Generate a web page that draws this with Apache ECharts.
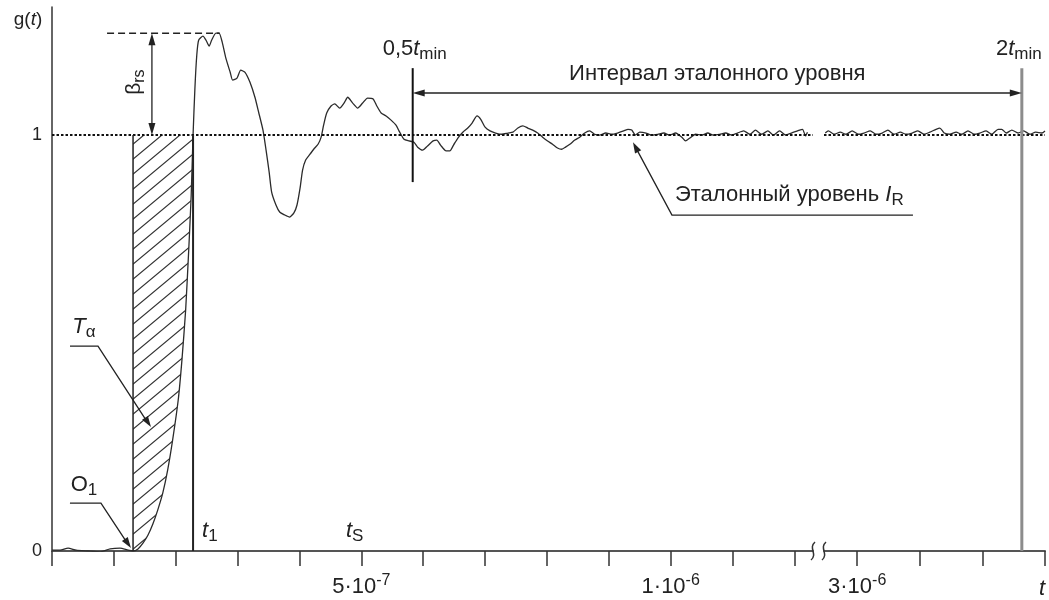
<!DOCTYPE html>
<html><head><meta charset="utf-8">
<script src="https://cdn.jsdelivr.net/npm/echarts@6/dist/echarts.min.js"></script>
<style>html,body{margin:0;padding:0;background:#fff}#c{width:1049px;height:600px}</style>
</head><body><div id="c"></div>
<script>
// time in units of 1e-7 s, g(t) dimensionless
const curveEarly = [
 [0,0.002],[0.13,0.002],[0.26,0.007],[0.39,0.002],[0.58,0],[0.78,-0.002],[0.94,0.005],[1.10,0.007],[1.23,0.002],
 [1.31,0],[1.39,0.005],[1.47,0.019],[1.55,0.038],[1.63,0.065],[1.71,0.099],[1.79,0.139],[1.87,0.195],[1.95,0.267],
 [2.04,0.363],[2.10,0.459],[2.16,0.579],[2.21,0.724],[2.25,0.856],[2.28,1.0],[2.31,1.113],[2.34,1.192],[2.37,1.228],
 [2.44,1.238],[2.49,1.228],[2.54,1.214],[2.58,1.228],[2.65,1.245],[2.70,1.245],[2.75,1.224],[2.81,1.185],[2.88,1.151],
 [2.92,1.132],[2.99,1.137],[3.05,1.156],[3.12,1.151],[3.20,1.127],[3.28,1.091],[3.34,1.055],[3.41,1.012],[3.46,0.964],
 [3.51,0.911],[3.55,0.863],[3.62,0.832],[3.68,0.815],[3.76,0.808],[3.84,0.803],[3.91,0.813],[3.96,0.832],[4.01,0.873],
 [4.05,0.916],[4.10,0.94],[4.17,0.954],[4.23,0.966],[4.30,0.978],[4.35,0.995],[4.39,1.024],[4.44,1.053],[4.51,1.07],
 [4.57,1.075],[4.65,1.065],[4.72,1.077],[4.78,1.091],[4.86,1.077],[4.94,1.065],[5.02,1.077],[5.10,1.089],[5.19,1.087],
 [5.25,1.07],[5.32,1.053],[5.40,1.046],[5.48,1.036],[5.56,1.024],[5.62,1.007],[5.69,0.99],[5.77,0.986],[5.85,0.983],
 [5.91,0.971],[5.99,0.964],[6.07,0.974],[6.16,0.986],[6.22,0.988],[6.28,0.976],[6.37,0.962],[6.43,0.962],[6.49,0.976],
 [6.56,0.993],[6.64,1.007],[6.72,1.017],[6.79,1.029],[6.87,1.046],[6.93,1.038],[7.00,1.019],[7.08,1.01],[7.17,1.005],
 [7.27,1.002],[7.37,1.005],[7.45,1.007],[7.53,1.017],[7.61,1.022],[7.69,1.017],[7.77,1.012],[7.85,1.005],[7.93,0.995],
 [8.01,0.986],[8.09,0.978],[8.17,0.969],[8.24,0.966],[8.30,0.971],[8.37,0.978],[8.45,0.988],[8.53,0.995],[8.61,1.005],
 [8.69,1.01],[8.77,1.002],[8.85,1.0],[8.95,1.005],[9.05,1.002],[9.14,1.005],[9.24,1.01],[9.31,1.014],[9.37,1.012],
 [9.43,1.0],[9.50,1.007],[9.60,1.005],[9.69,1.0],[9.79,1.002],[9.89,1.005],[9.98,1.0],[10.08,1.005],[10.18,0.995],
 [10.24,0.986],[10.31,0.993],[10.40,1.002],[10.50,1.0],[10.60,1.005],[10.69,1.0],[10.79,1.002],[10.89,1.005],[10.99,1.0],
 [11.08,1.005],[11.18,1.01],[11.28,1.002],[11.37,1.012],[11.47,1.002],[11.57,1.01],[11.66,1.0],[11.76,1.01],[11.86,1.0],
 [11.95,1.005],[12.05,1.01],[12.13,1.014],[12.18,0.998],[12.21,1.007]
];
const curveLate = [
 [29.49,1.005],[29.54,1.01],[29.63,1.002],[29.73,1.007],[29.82,1.002],[29.92,1.01],[30.02,1.002],[30.11,1.005],
 [30.21,1.01],[30.30,1.002],[30.40,1.005],[30.49,1.012],[30.59,1.002],[30.69,1.007],[30.78,1.002],[30.88,1.005],
 [30.97,1.01],[31.07,1.002],[31.16,1.007],[31.26,1.014],[31.32,1.017],[31.39,1.005],[31.48,1.002],[31.58,1.007],
 [31.67,1.002],[31.77,1.01],[31.87,1.002],[31.96,1.005],[32.06,1.01],[32.15,1.002],[32.25,1.014],[32.31,1.014],
 [32.38,1.005],[32.47,1.012],[32.57,1.005],[32.66,1.01],[32.76,1.002],[32.85,1.007],[32.95,1.005],[33.0,1.01]
];
const ticksEarly = [0,1,2,3,4,5,6,7,8,9,10,11,12];
const labelsEarly = [5,10];
const ticksLate = [30,31,32,33];
const labelsLate = [30];
const yLabels = [0,1];
const refLevel = 1;
const tO1 = 1.31, tT1 = 2.28, tS = 4.75, tHalfMin = 5.83, tTwoMin = 32.63;

const FF = "'Liberation Sans', Arial, Helvetica, sans-serif";
const INK = '#222';

function sciLabel(v){
  const s = v*1e-7;
  const e = Math.floor(Math.log10(s)+1e-9);
  const m = Math.round(s/Math.pow(10,e));
  return '{m|'+m+'·10}{p|-'+(-e)+'}';
}
const xRich = {
  m:{fontSize:22,fontFamily:FF,color:INK,lineHeight:28},
  p:{fontSize:16,fontFamily:FF,color:INK,lineHeight:16,verticalAlign:'top'}
};
function richSet(size){
  return {
    n:{fontSize:size,fontFamily:FF,color:INK,lineHeight:size+6},
    i:{fontSize:size,fontFamily:FF,color:INK,fontStyle:'italic',lineHeight:size+6},
    s:{fontSize:Math.round(size*0.75),fontFamily:FF,color:INK,lineHeight:12,verticalAlign:'bottom'},
    si:{fontSize:Math.round(size*0.75),fontFamily:FF,color:INK,fontStyle:'italic',lineHeight:12,verticalAlign:'bottom'}
  };
}

// hatch pattern
const pc = document.createElement('canvas');
const PW = 18, PH = 15;
pc.width = PW; pc.height = PH;
(function(){
  const c = pc.getContext('2d');
  c.strokeStyle = '#333'; c.lineWidth = 1.2;
  c.beginPath();
  c.moveTo(-PW, 2*PH); c.lineTo(2*PW, -PH);
  c.moveTo(-2*PW, 2*PH); c.lineTo(PW, -PH);
  c.moveTo(0, 2*PH); c.lineTo(3*PW, -PH);
  c.stroke();
})();

const chart = echarts.init(document.getElementById('c'), null, {renderer:'canvas'});
const axisLineStyle = {color:'#555', width:2};
const dotted = {color:'#111', type:[2.5,2], width:2};
const peak = Math.max.apply(null, curveEarly.map(d=>d[1]));

chart.setOption({
  animation:false,
  backgroundColor:'#fff',
  grid:[
    {left:52, width:761, top:7, bottom:49},
    {left:824, width:221, top:7, bottom:49}
  ],
  xAxis:[
    {gridIndex:0, type:'value', min:0, max:12.3,
     axisLine:{show:true, lineStyle:axisLineStyle},
     axisTick:{show:true, length:15, lineStyle:{color:'#333', width:1.5}, customValues:ticksEarly},
     axisLabel:{show:true, customValues:labelsEarly, margin:22, formatter:sciLabel, rich:xRich},
     splitLine:{show:false}},
    {gridIndex:1, type:'value', min:29.47, max:33.0,
     axisLine:{show:true, lineStyle:axisLineStyle},
     axisTick:{show:true, length:15, lineStyle:{color:'#333', width:1.5}, customValues:ticksLate},
     axisLabel:{show:true, customValues:labelsLate, margin:22, formatter:sciLabel, rich:xRich},
     splitLine:{show:false}}
  ],
  yAxis:[
    {gridIndex:0, type:'value', min:0, max:1.308,
     axisLine:{show:true, lineStyle:{color:'#333', width:1.5}},
     axisTick:{show:false},
     axisLabel:{show:true, customValues:yLabels, margin:10, fontSize:18, fontFamily:FF, color:INK},
     splitLine:{show:false}},
    {gridIndex:1, type:'value', min:0, max:1.308, show:false, splitLine:{show:false}}
  ],
  series:[
    {type:'custom', xAxisIndex:0, yAxisIndex:0, data:[0], silent:true, z:1,
     renderItem:function(params, api){
       const pts = [api.coord([tO1, refLevel])];
       curveEarly.forEach(d=>{ if(d[0]>=tO1-1e-9 && d[0]<=tT1+1e-9) pts.push(api.coord([d[0], Math.max(0,d[1])])); });
       pts.push(api.coord([tT1, refLevel]));
       return {type:'polygon', shape:{points:pts}, style:{fill:{image:pc, repeat:'repeat'}, stroke:null}};
     }},
    {type:'line', xAxisIndex:0, yAxisIndex:0, data:curveEarly, showSymbol:false, smooth:0.2,
     lineStyle:{color:'#2b2b2b', width:1.3}, z:3,
     markLine:{silent:true, symbol:'none', label:{show:false}, lineStyle:dotted, data:[{yAxis:refLevel}]}},
    {type:'line', xAxisIndex:1, yAxisIndex:1, data:curveLate, showSymbol:false, smooth:0.2,
     lineStyle:{color:'#2b2b2b', width:1.3}, z:3,
     markLine:{silent:true, symbol:'none', label:{show:false}, lineStyle:dotted, data:[{yAxis:refLevel}]}}
  ]
});

const P = (gi,t,g) => chart.convertToPixel({xAxisIndex:gi, yAxisIndex:gi}, [t,g]);
function line(a,b,style){ return {type:'line', shape:{x1:a[0],y1:a[1],x2:b[0],y2:b[1]}, style:Object.assign({stroke:INK,lineWidth:1.5},style||{}), z:10}; }
function head(tip, from, len, half){
  const dx = tip[0]-from[0], dy = tip[1]-from[1];
  const L = Math.sqrt(dx*dx+dy*dy); const ux = dx/L, uy = dy/L;
  const bx = tip[0]-ux*len, by = tip[1]-uy*len;
  return {type:'polygon', shape:{points:[[tip[0],tip[1]],[bx-uy*half,by+ux*half],[bx+uy*half,by-ux*half]]}, style:{fill:INK}, z:11};
}
function txt(x,y,text,size,align,extra){
  return Object.assign({type:'text', x:x, y:y, z:12, style:{text:text, rich:richSet(size), fontSize:size, fontFamily:FF, fill:INK,
    align:align||'center', textAlign:align||'center', verticalAlign:'middle', textVerticalAlign:'middle'}}, extra||{});
}
const G = [];
// peak dashed level
G.push(line(P(0,0.89,peak), P(0,2.71,peak), {lineDash:[7,4], lineWidth:1.5}));
// beta arrow
const bTop = P(0,1.615,peak), bBot = P(0,1.615,refLevel);
G.push(line([bTop[0],bTop[1]+8],[bBot[0],bBot[1]-8],{lineWidth:1.3}));
G.push(head(bTop,[bTop[0],bTop[1]+20],12,3.5));
G.push(head(bBot,[bBot[0],bBot[1]-20],12,3.5));
G.push(txt(bTop[0]-18, (bTop[1]+bBot[1])/2-2, '{n|β}{s|rs}', 21, 'center', {rotation:Math.PI/2}));
// O1 and t1 verticals
G.push(line(P(0,tO1,0), P(0,tO1,refLevel), {lineWidth:1.5}));
G.push(line(P(0,tT1,0), P(0,tT1,refLevel), {lineWidth:2}));
// 0.5 tmin and 2 tmin markers
const hA = P(0,tHalfMin,1.161), hB = P(0,tHalfMin,0.887);
G.push(line(hA,hB,{lineWidth:2, stroke:'#111'}));
const wA = P(1,tTwoMin,1.161), wB = P(1,tTwoMin,0);
G.push(line(wA,wB,{lineWidth:3, stroke:'#8c8c8c'}));
// interval arrow
const iL = P(0,tHalfMin,1.101), iR = P(1,tTwoMin,1.101);
G.push(line([iL[0]+8,iL[1]],[iR[0]-8,iR[1]],{lineWidth:1.5}));
G.push(head(iL,[iL[0]+20,iL[1]],12,3.5));
G.push(head(iR,[iR[0]-20,iR[1]],12,3.5));
G.push(txt((iL[0]+iR[0])/2, iL[1]-19, '{n|Интервал эталонного уровня}', 22));
G.push(txt(hA[0]+2, hA[1]-19, '{n|0,5}{i|t}{s|min}', 22));
G.push(txt(wA[0]-3, wA[1]-19, '{n|2}{i|t}{s|min}', 22));
// t1, tS labels
const t1p = P(0,tT1,0), tsp = P(0,tS,0);
G.push(txt(t1p[0]+9, t1p[1]-20, '{i|t}{s|1}', 22, 'left'));
G.push(txt(tsp[0], tsp[1]-20, '{i|t}{s|S}', 22, 'left'));
// callout O1
const o1 = P(0,1.276,0.007);
G.push({type:'polyline', shape:{points:[[o1[0]-61,o1[1]-45],[o1[0]-30,o1[1]-45],[o1[0]-3,o1[1]-4]]}, style:{stroke:INK,lineWidth:1.3,fill:null}, z:10});
G.push(head(o1,[o1[0]-30,o1[1]-45],11,3.5));
G.push(txt(o1[0]-47, o1[1]-63, '{n|O}{s|1}', 22));
// callout T alpha
const ta = P(0,1.60,0.298);
G.push({type:'polyline', shape:{points:[[ta[0]-81,ta[1]-81],[ta[0]-53,ta[1]-81],[ta[0]-3,ta[1]-4]]}, style:{stroke:INK,lineWidth:1.3,fill:null}, z:10});
G.push(head(ta,[ta[0]-53,ta[1]-81],11,3.5));
G.push(txt(ta[0]-67, ta[1]-100, '{i|T}{s|α}', 22));
// callout reference level
const ir = P(0,9.39,0.983);
G.push({type:'polyline', shape:{points:[[ir[0]+2,ir[1]+4],[ir[0]+39,ir[1]+73],[ir[0]+280,ir[1]+73]]}, style:{stroke:INK,lineWidth:1.3,fill:null}, z:10});
G.push(head(ir,[ir[0]+39,ir[1]+73],11,3.5));
G.push(txt(ir[0]+42, ir[1]+53, '{n|Эталонный уровень }{i|I}{s|R}', 22, 'left'));
// axis titles
const org = P(0,0,1.308);
G.push(txt(org[0]-24, org[1]+13, '{n|g(}{i|t}{n|)}', 19));
const xe = P(1,33.0,0);
G.push(txt(xe[0]-6, xe[1]+38, '{i|t}', 22, 'left'));
// break marks
const bx1 = P(0,12.3,0), bx2 = P(1,29.47,0);
[bx1[0], bx2[0]].forEach(function(x){
  G.push({type:'bezierCurve', shape:{x1:x+2,y1:bx1[1]-9,cpx1:x-5,cpy1:bx1[1]-3,cpx2:x+5,cpy2:bx1[1]+3,x2:x-2,y2:bx1[1]+9}, style:{stroke:'#333',lineWidth:1.5,fill:null}, z:12});
});
chart.setOption({graphic:G});
</script>
</body></html>
